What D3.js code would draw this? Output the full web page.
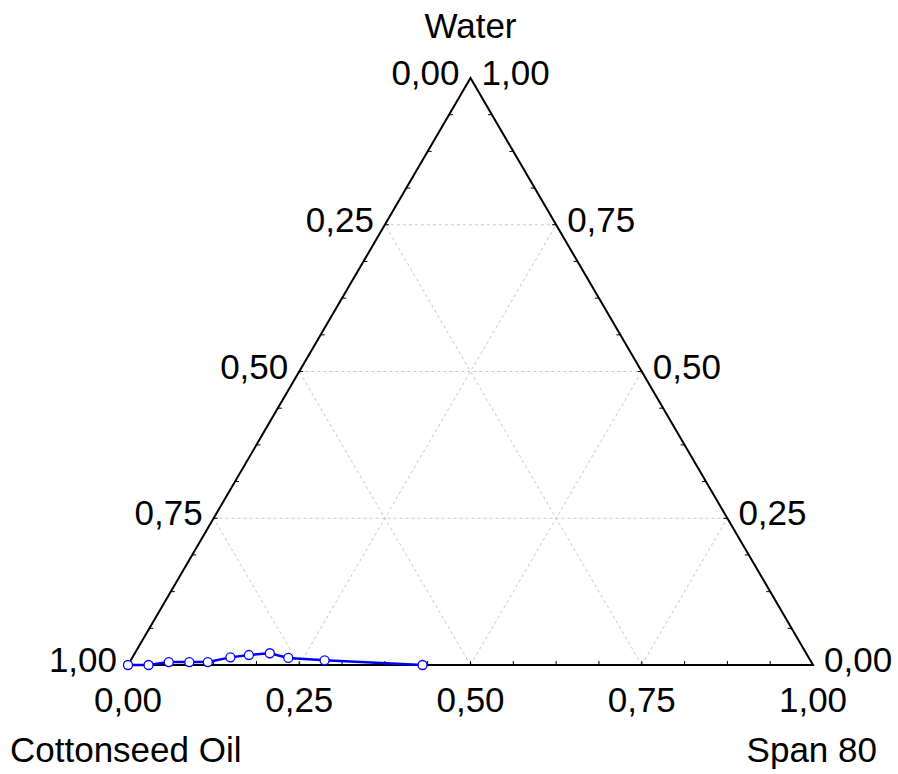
<!DOCTYPE html>
<html>
<head>
<meta charset="utf-8">
<script src="https://cdn.jsdelivr.net/npm/d3@7"></script>
<style>
  html, body { margin: 0; padding: 0; background: #fff; }
  svg text { font-family: "Liberation Sans", Arial, sans-serif; fill: #000; }
</style>
</head>
<body>
<svg id="chart" width="898" height="774"></svg>
<script>
// ---- data ----
const axisNames = ["Cottonseed Oil", "Span 80", "Water"];
const tickValues = [0, 0.25, 0.5, 0.75, 1];
const tickLabels = ["0,00", "0,25", "0,50", "0,75", "1,00"];
// binodal points: Span 80 fraction and Water fraction (oil = 1 - span - water)
const span80 = [0.000, 0.030, 0.057, 0.087, 0.114, 0.143, 0.168, 0.197, 0.228, 0.283, 0.430];
const water  = [0.000, 0.000, 0.005, 0.005, 0.005, 0.013, 0.017, 0.020, 0.012, 0.008, 0.000];

// ---- geometry ----
const svg = d3.select("#chart");
const xScale = d3.scaleLinear().domain([0, 1]).range([128, 813]);
const yScale = d3.scaleLinear().domain([0, 1]).range([665, 78]);
const P = (s, w) => [xScale(s + w / 2), yScale(w)];

const gGrid = svg.append("g");
const dash = "3,3";
tickValues.filter(v => v > 0 && v < 1).forEach(v => {
  const a = P(0, v), b = P(1 - v, v);
  const c = P(v, 0), d = P(v, 1 - v);
  const e = P(1 - v, 0), f = P(0, 1 - v);
  [[a, b], [c, d], [e, f]].forEach(([p, q]) => {
    gGrid.append("line")
      .attr("x1", p[0]).attr("y1", p[1]).attr("x2", q[0]).attr("y2", q[1])
      .attr("stroke", "#c8c8c8").attr("stroke-width", 1)
      .attr("stroke-dasharray", dash);
  });
});

// ticks
const minor = d3.range(0, 1.0001, 0.0625);
const gT = svg.append("g").attr("stroke", "#000").attr("stroke-width", 1);
minor.forEach(v => {
  if (v <= 0 || v >= 1) return;
  const b = P(v, 0);
  gT.append("line").attr("x1", b[0]).attr("y1", b[1]).attr("x2", b[0]).attr("y2", b[1] - 4);
  const l = P(0, v);
  gT.append("line").attr("x1", l[0]).attr("y1", l[1]).attr("x2", l[0] + 4).attr("y2", l[1]);
  const r = P(1 - v, v);
  gT.append("line").attr("x1", r[0]).attr("y1", r[1]).attr("x2", r[0] - 4).attr("y2", r[1]);
});

// triangle
const tri = [P(0, 0), P(1, 0), P(0, 1)];
svg.append("path")
  .attr("d", d3.line()(tri) + "Z")
  .attr("fill", "none").attr("stroke", "#000").attr("stroke-width", 2)
  .attr("stroke-linejoin", "miter");

// labels
const fs = 35;
const gL = svg.append("g").attr("font-size", fs);
tickValues.forEach((v, i) => {
  const p = P(0, 1 - v);
  gL.append("text").attr("x", p[0] - 11).attr("y", p[1] + 7)
    .attr("text-anchor", "end").text(tickLabels[i]);
});
tickValues.forEach((v, i) => {
  const p = P(1 - v, v);
  gL.append("text").attr("x", p[0] + 11).attr("y", p[1] + 7)
    .attr("text-anchor", "start").text(tickLabels[i]);
});
tickValues.forEach((v, i) => {
  const p = P(v, 0);
  gL.append("text").attr("x", p[0]).attr("y", 712)
    .attr("text-anchor", "middle").text(tickLabels[i]);
});
gL.append("text").attr("x", 10).attr("y", 762).attr("text-anchor", "start").text(axisNames[0]);
gL.append("text").attr("x", 877).attr("y", 762).attr("text-anchor", "end").text(axisNames[1]);
gL.append("text").attr("x", P(0, 1)[0]).attr("y", 38).attr("text-anchor", "middle").text(axisNames[2]);

// data line
const pts = span80.map((s, i) => P(s, water[i]));
svg.append("path")
  .attr("d", d3.line()(pts))
  .attr("fill", "none").attr("stroke", "#0000ff").attr("stroke-width", 2.5);
svg.append("g").selectAll("circle").data(pts).join("circle")
  .attr("cx", d => d[0]).attr("cy", d => d[1]).attr("r", 4.5)
  .attr("fill", "#fff").attr("stroke", "#0000ff").attr("stroke-width", 1.3);
</script>
</body>
</html>
